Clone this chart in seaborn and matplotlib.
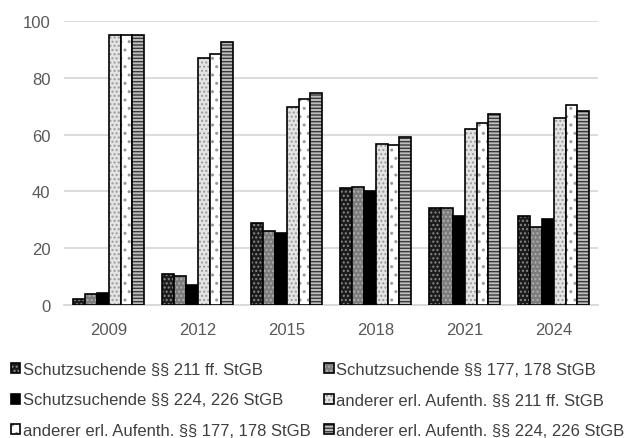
import pandas as pd
import seaborn as sns
import matplotlib.pyplot as plt
from matplotlib.colors import to_rgba

# Data
years = ["2009", "2012", "2015", "2018", "2021", "2024"]
series = [
    "Schutzsuchende §§ 211 ff. StGB",
    "Schutzsuchende §§ 177, 178 StGB",
    "Schutzsuchende §§ 224, 226 StGB",
    "anderer erl. Aufenth. §§ 211 ff. StGB",
    "anderer erl. Aufenth. §§ 177, 178 StGB",
    "anderer erl. Aufenth. §§ 224, 226 StGB",
]
schutz_211 = [2.1, 11.0, 28.9, 41.2, 34.3, 31.5]
schutz_177 = [4.0, 10.1, 26.0, 41.7, 34.1, 27.5]
schutz_224 = [4.3, 7.0, 25.5, 40.1, 31.3, 30.1]
anderer_211 = [95.0, 87.0, 69.6, 56.8, 61.8, 65.8]
anderer_177 = [95.0, 88.2, 72.6, 56.5, 64.0, 70.3]
anderer_224 = [95.2, 92.5, 74.7, 59.2, 67.3, 68.4]

values = [schutz_211, schutz_177, schutz_224, anderer_211, anderer_177, anderer_224]
rows = []
for name, vals in zip(series, values):
    for y, v in zip(years, vals):
        rows.append({"Jahr": y, "Gruppe": name, "Wert": v})
df = pd.DataFrame(rows)

# face colour, hatch, hatch colour for each series (black & white print style)
styles = [
    ("#1c1c1c", "....", "#8a8a8a"),
    ("#7c7c7c", "....", "#b0b0b0"),
    ("#000000", "", "#000000"),
    ("#e4e4e4", "....", "#9a9a9a"),
    ("#ffffff", "..", "#9a9a9a"),
    ("#bdbdbd", "-----", "#3a3a3a"),
]

sns.set_theme(style="white")
plt.rcParams["font.family"] = ["Liberation Sans", "DejaVu Sans"]

fig, ax = plt.subplots(figsize=(6.29, 4.39), dpi=100)
fig.subplots_adjust(left=0.102, right=0.951, top=0.95, bottom=0.303)

sns.barplot(data=df, x="Jahr", y="Wert", hue="Gruppe", hue_order=series,
            order=years, width=0.8, legend=False, ax=ax, zorder=3)

for cont, (fc, hatch, hc) in zip(ax.containers, styles):
    for bar in cont.patches:
        bar.set_facecolor(fc)
        bar.set_edgecolor("black")
        bar.set_linewidth(1.2)
        bar.set_hatch(hatch)
        bar._hatch_color = to_rgba(hc)

ax.set_ylim(0, 100)
ax.set_yticks(range(0, 101, 20))
ax.yaxis.grid(True, color="#d9d9d9", linewidth=1.3, zorder=0)
ax.set_axisbelow(True)
for s in ["top", "right", "left"]:
    ax.spines[s].set_visible(False)
ax.spines["bottom"].set_color("#d9d9d9")
ax.spines["bottom"].set_linewidth(1.3)
ax.set_xlabel("")
ax.set_ylabel("")
ax.tick_params(axis="both", length=0, labelsize=12, labelcolor="#595959")
ax.tick_params(axis="x", pad=12)
ax.tick_params(axis="y", pad=10)

handles = [c.patches[0] for c in ax.containers]
order = [0, 2, 4, 1, 3, 5]
fig.legend([handles[i] for i in order], [series[i] for i in order],
           ncol=2, loc="upper left", bbox_to_anchor=(0.0175, 0.174),
           frameon=False, fontsize=12, labelcolor="#404040",
           handlelength=0.55, handleheight=0.55, handletextpad=0.15,
           columnspacing=0.84, labelspacing=0.95, borderaxespad=0,
           borderpad=0)

fig.savefig("out.png", dpi=100)
